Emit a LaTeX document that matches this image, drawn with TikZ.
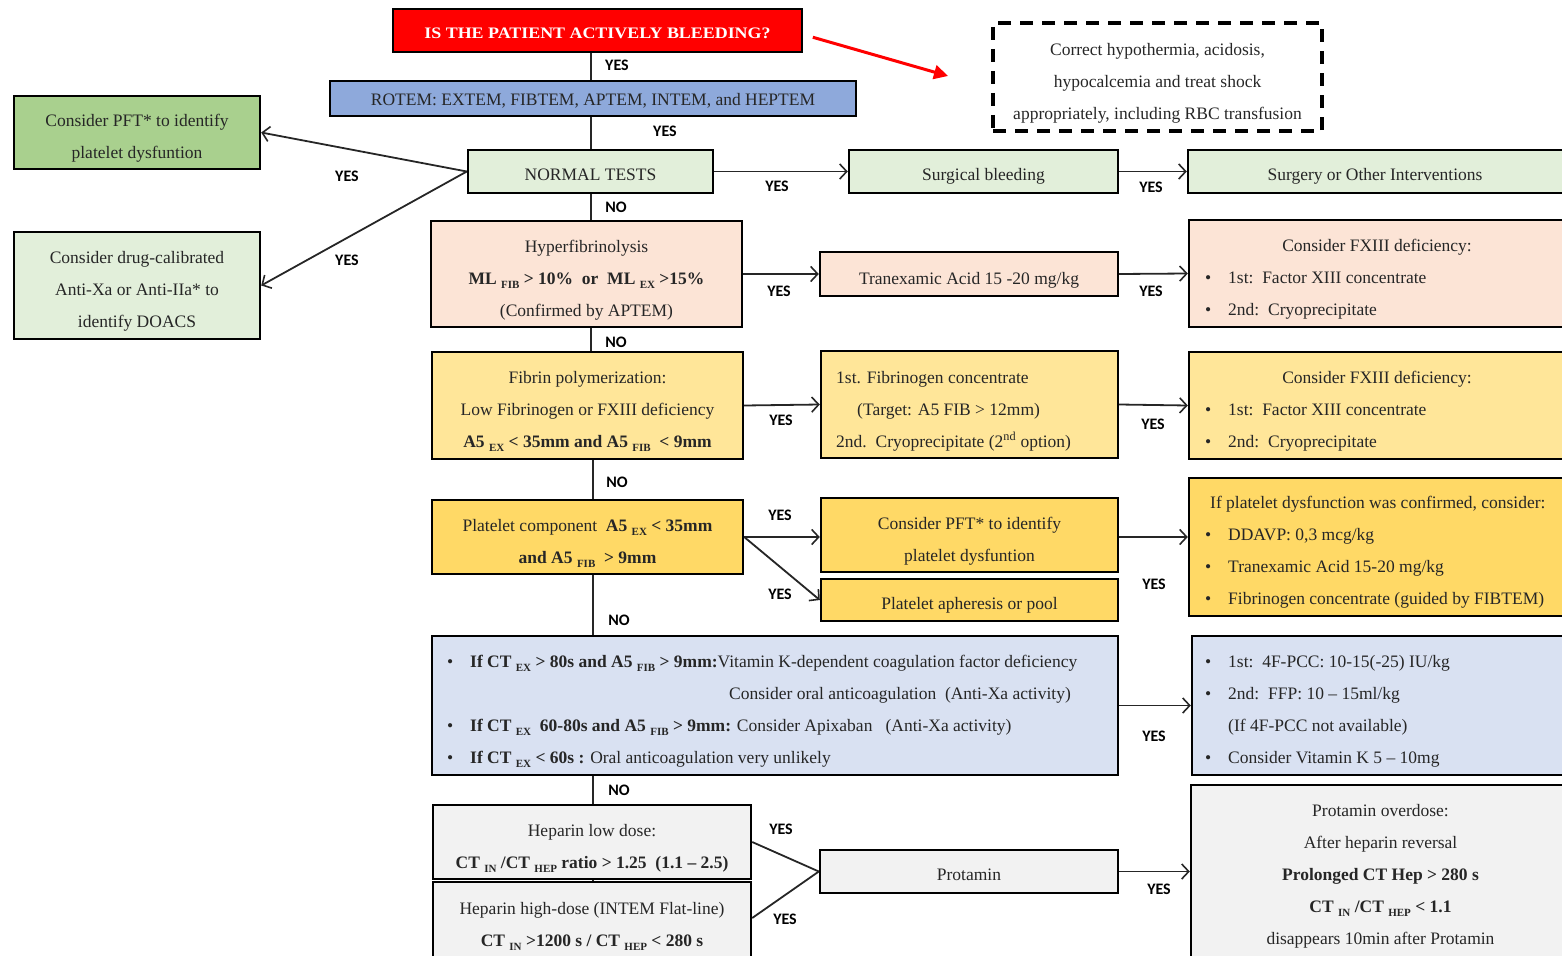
\documentclass[tikz,border=0pt]{standalone}
\usepackage{graphicx}
\usepackage{fontspec}
\setmainfont{Liberation Serif}
\newfontfamily\labfont{Carlito}
\usetikzlibrary{arrows.meta}
\definecolor{cred}{HTML}{FF0000}
\definecolor{crotem}{HTML}{8EA9DB}
\definecolor{cgreen}{HTML}{A9D08E}
\definecolor{clgreen}{HTML}{E2EFDA}
\definecolor{cpeach}{HTML}{FCE4D6}
\definecolor{clyellow}{HTML}{FFE699}
\definecolor{cgold}{HTML}{FFD966}
\definecolor{clblue}{HTML}{D9E1F2}
\definecolor{cgray}{HTML}{F2F2F2}
\definecolor{txt}{HTML}{262626}
\newcommand\lowsub[1]{\raisebox{-0.5ex}{\fontsize{11}{11}\selectfont #1}}
\newcommand\bul{\makebox[23pt][l]{\textbullet}}
\begin{document}
\begin{tikzpicture}[x=1pt,y=-1pt,
  box/.style={draw=black, line width=2.4pt, inner sep=0pt},
  bt/.style={inner sep=0pt, align=center, text=txt, font=\fontsize{17.5}{32}\selectfont},
  tx/.style={inner sep=0pt, text=txt, font=\fontsize{17.5}{32}\selectfont, anchor=base west},
  lab/.style={font=\labfont\bfseries\fontsize{16}{16}\selectfont, inner sep=0pt, text=black},
  conn/.style={line width=1.8pt, draw=black!85},
  arr/.style={conn, -{Straight Barb[length=7pt, width=15pt, line width=1.6pt]}}]
\useasboundingbox (0,0) rectangle (1562,955);
\clip (0,0) rectangle (1562,955);
\coordinate (sp) at (591,0);
\coordinate (sq) at (593,0);

% top
\node[box, fill=cred, minimum width=409pt, minimum height=43pt] (title) at (597.5,30.5) {};
\node[bt] (titlet) at ([yshift=-3pt]title.center)
  {\color{white}\bfseries\fontsize{16}{16}\selectfont\scalebox{1.12}[1]{IS THE PATIENT ACTIVELY BLEEDING?}};
\node[box, line width=4pt, dash pattern=on 13pt off 9pt, minimum width=329pt, minimum height=108pt] (corr) at (1157.5,77) {};
\node[bt] (corrt) at ([yshift=-6pt]corr.center)
  {Correct hypothermia, acidosis,\\ hypocalcemia and treat shock\\ appropriately, including RBC transfusion};
\coordinate (redend) at (948,76);
\draw[line width=3pt, draw=cred, -{Triangle[length=14pt,width=14pt]}, shorten <=10pt] (title.east) ++(0,4) coordinate (redstart) -- (redend);

\node[box, fill=crotem, minimum width=526pt, minimum height=35pt] (rotem) at (593,98.5) {};
\node[bt] (rotemt) at ([yshift=-2pt]rotem.center) {ROTEM: EXTEM, FIBTEM, APTEM, INTEM, and HEPTEM};
\node[box, fill=clgreen, minimum width=245pt, minimum height=43pt] (normal) at (590.5,171.5) {};
\node[bt] (normalt) at ([yshift=-3pt]normal.center) {NORMAL TESTS};
\node[box, fill=cgreen, minimum width=246pt, minimum height=73pt] (pftA) at (137,132.5) {};
\node[bt] (pftAt) at ([yshift=-6pt]pftA.center) {Consider PFT* to identify\\ platelet dysfuntion};
\node[box, fill=clgreen, minimum width=246pt, minimum height=107pt] (doac) at (137,285.5) {};
\node[bt] (doact) at ([yshift=-6pt]doac.center) {Consider drug-calibrated\\ Anti-Xa or Anti-IIa* to\\ identify DOACS};
\node[box, fill=clgreen, minimum width=269pt, minimum height=43pt] (surg) at (983.5,171.5) {};
\node[bt] (surgt) at ([yshift=-5pt]surg.center) {Surgical bleeding};
\node[box, fill=clgreen, minimum width=382pt, minimum height=43pt] (surgery) at (1379,171.5) {};
\node[bt] (surgeryt) at ([xshift=-4pt,yshift=-5pt]surgery.center) {Surgery or Other Interventions};

% hyperfibrinolysis row
\node[box, fill=cpeach, minimum width=311pt, minimum height=106pt] (hyper) at (586.5,274) {};
\node[bt] (hypert) at ([yshift=-6pt]hyper.center)
  {Hyperfibrinolysis\\ \textbf{ML \lowsub{FIB} > 10\%\ \ or\ \ ML \lowsub{EX} >15\%}\\ (Confirmed by APTEM)};
\node[box, fill=cpeach, minimum width=298pt, minimum height=44pt] (tranex) at (969,274) {};
\node[bt] (tranext) at ([yshift=-6pt]tranex.center) {Tranexamic Acid 15 -20 mg/kg};
\node[box, fill=cpeach, minimum width=381pt, minimum height=107pt] (fxA) at (1379.5,273.5) {};
\node[tx, anchor=base] (fxAh) at (1377,251) {Consider FXIII deficiency:};
\node[tx] (fxA1) at (1205,283) {\bul 1st:\ \ Factor XIII concentrate};
\node[tx] (fxA2) at (1205,315) {\bul 2nd:\ \ Cryoprecipitate};

% fibrin row
\node[box, fill=clyellow, minimum width=311pt, minimum height=107pt] (fibrin) at (587.5,405.5) {};
\node[bt] (fibrint) at ([yshift=-6pt]fibrin.center)
  {Fibrin polymerization:\\ Low Fibrinogen or FXIII deficiency\\ \textbf{A5 \lowsub{EX} < 35mm and A5 \lowsub{FIB}\ \ < 9mm}};
\node[box, fill=clyellow, minimum width=297pt, minimum height=107pt] (fibg) at (969.5,404.5) {};
\node[tx] (fibg1) at (836,383) {1st. Fibrinogen concentrate};
\node[tx] (fibg2) at (857,415) {(Target: A5 FIB > 12mm)};
\node[tx] (fibg3) at (836,447) {2nd.\ \ Cryoprecipitate (2\textsuperscript{nd} option)};
\node[box, fill=clyellow, minimum width=381pt, minimum height=107pt] (fxB) at (1379.5,405.5) {};
\node[tx, anchor=base] (fxBh) at (1377,383) {Consider FXIII deficiency:};
\node[tx] (fxB1) at (1205,415) {\bul 1st:\ \ Factor XIII concentrate};
\node[tx] (fxB2) at (1205,447) {\bul 2nd:\ \ Cryoprecipitate};

% platelet row
\node[box, fill=cgold, minimum width=311pt, minimum height=74pt] (plat) at (587.5,537) {};
\node[bt] (platt) at ([yshift=-6pt]plat.center)
  {Platelet component\ \ \textbf{A5 \lowsub{EX} < 35mm}\\ \textbf{and A5 \lowsub{FIB}\ \ > 9mm}};
\node[box, fill=cgold, minimum width=297pt, minimum height=74pt] (pftB) at (969.5,535) {};
\node[bt] (pftBt) at ([yshift=-6pt]pftB.center) {Consider PFT* to identify\\ platelet dysfuntion};
\node[box, fill=cgold, minimum width=297pt, minimum height=42pt] (apher) at (969.5,600) {};
\node[bt] (aphert) at ([yshift=-5pt]apher.center) {Platelet apheresis or pool};
\node[box, fill=cgold, minimum width=381pt, minimum height=138pt] (rplat) at (1379.5,547) {};
\node[tx] (rplat0) at (1210,508) {If platelet dysfunction was confirmed, consider:};
\node[tx] (rplat1) at (1205,540) {\bul DDAVP: 0,3 mcg/kg};
\node[tx] (rplat2) at (1205,572) {\bul Tranexamic Acid 15-20 mg/kg};
\node[tx] (rplat3) at (1205,604) {\bul Fibrinogen concentrate (guided by FIBTEM)};

% vitamin K row
\node[box, fill=clblue, minimum width=686pt, minimum height=139pt] (vitk) at (775,705.5) {};
\node[tx] (vitk1) at (447,667) {\bul\textbf{If CT \lowsub{EX} > 80s and A5 \lowsub{FIB} > 9mm:}Vitamin K-dependent coagulation factor deficiency};
\node[tx] (vitk2) at (729,699) {Consider oral anticoagulation\ \ (Anti-Xa activity)};
\node[tx] (vitk3) at (447,731) {\bul\textbf{If CT \lowsub{EX}\ \ 60-80s and A5 \lowsub{FIB} > 9mm:} Consider Apixaban\ \ \ (Anti-Xa activity)};
\node[tx] (vitk4) at (447,763) {\bul\textbf{If CT \lowsub{EX} < 60s :} Oral anticoagulation very unlikely};
\node[box, fill=clblue, minimum width=378pt, minimum height=139pt] (rvitk) at (1381,705.5) {};
\node[tx] (rvitk1) at (1205,667) {\bul 1st:\ \ 4F-PCC: 10-15(-25) IU/kg};
\node[tx] (rvitk2) at (1205,699) {\bul 2nd:\ \ FFP: 10 -- 15ml/kg};
\node[tx] (rvitk3) at (1228,731) {(If 4F-PCC not available)};
\node[tx] (rvitk4) at (1205,763) {\bul Consider Vitamin K 5 -- 10mg};

% heparin rows
\node[box, fill=cgray, minimum width=318pt, minimum height=74pt] (hlow) at (592,842) {};
\node[bt] (hlowt) at ([yshift=-6pt]hlow.center)
  {Heparin low dose:\\ \textbf{CT \lowsub{IN} /CT \lowsub{HEP} ratio > 1.25\ \ (1.1 -- 2.5)}};
\node[box, fill=cgray, minimum width=318pt, minimum height=78pt] (hhigh) at (592,921) {};
\node[bt] (hhight) at ([yshift=-5pt]hhigh.center)
  {Heparin high-dose (INTEM Flat-line)\\ \textbf{CT \lowsub{IN} >1200 s / CT \lowsub{HEP} < 280 s}};
\node[box, fill=cgray, minimum width=298pt, minimum height=43pt] (prot) at (969,871.5) {};
\node[bt] (prott) at ([yshift=-3pt]prot.center) {Protamin};
\node[box, fill=cgray, minimum width=379pt, minimum height=180pt] (over) at (1380.5,875) {};
\node[bt] (overt) at ([yshift=-1pt]over.center)
  {Protamin overdose:\\ After heparin reversal\\ \textbf{Prolonged CT Hep > 280 s}\\ \textbf{CT \lowsub{IN} /CT \lowsub{HEP} < 1.1}\\ disappears 10min after Protamin};

% connectors
\draw[conn] (title.south -| sp) -- (rotem.north -| sp);
\draw[conn] (rotem.south -| sp) -- (normal.north -| sp);
\draw[arr] (normal.west) -- (pftA.east);
\draw[arr] (normal.west) -- (doac.east);
\draw[arr] (normal.east) -- (surg.west);
\draw[arr] (surg.east) -- (surgery.west);
\draw[conn] (normal.south -| sp) -- (hyper.north -| sp);
\draw[arr] (hyper.east) -- (tranex.west);
\draw[arr] (tranex.east) -- (fxA.west);
\draw[conn] (hyper.south -| sp) -- (fibrin.north -| sp);
\draw[arr] (fibrin.east) -- (fibg.west);
\draw[arr] (fibg.east) -- (fxB.west);
\draw[conn] (fibrin.south -| sq) -- (plat.north -| sq);
\draw[arr] (plat.east) -- (pftB.west |- plat.east);
\draw[arr] (plat.east) -- (apher.west);
\draw[arr] (pftB.east |- plat.east) -- (rplat.west |- plat.east);
\draw[conn] (plat.south -| sq) -- (vitk.north -| sq);
\draw[arr] (vitk.east) -- (rvitk.west);
\draw[conn] (vitk.south -| sq) -- (hlow.north -| sq);
\draw[conn] (hlow.south -| sq) -- (hhigh.north -| sq);
\draw[conn] (hlow.east) -- (prot.west);
\draw[conn] (hhigh.east |- 0,918) -- (prot.west);
\draw[arr] (prot.east) -- (prot.east -| over.west);

% labels
\node[lab] (l1) at (617,65) {YES};
\node[lab] (l2) at (665,131) {YES};
\node[lab] (l3) at (347,176) {YES};
\node[lab] (l4) at (347,260) {YES};
\node[lab] (l5) at (777,186) {YES};
\node[lab] (l6) at (1151,187) {YES};
\node[lab] (n1) at (616,207) {NO};
\node[lab] (l7) at (779,291) {YES};
\node[lab] (l8) at (1151,291) {YES};
\node[lab] (n2) at (616,342) {NO};
\node[lab] (l9) at (781,420) {YES};
\node[lab] (l10) at (1153,424) {YES};
\node[lab] (n3) at (617,482) {NO};
\node[lab] (l11) at (780,515) {YES};
\node[lab] (l12) at (780,594) {YES};
\node[lab] (l13) at (1154,584) {YES};
\node[lab] (n4) at (619,620) {NO};
\node[lab] (l14) at (1154,736) {YES};
\node[lab] (n5) at (619,790) {NO};
\node[lab] (l15) at (781,829) {YES};
\node[lab] (l16) at (785,919) {YES};
\node[lab] (l17) at (1159,889) {YES};
\end{tikzpicture}
\end{document}
